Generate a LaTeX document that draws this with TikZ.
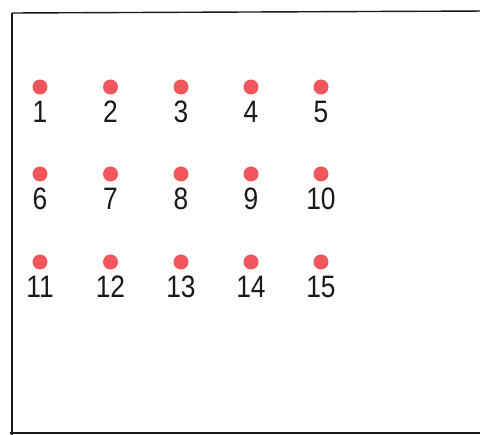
\documentclass[tikz,border=0pt]{standalone}
\usepackage{fontspec}
\newfontfamily\lblfont[FakeStretch=0.85]{Liberation Sans}
\definecolor{dotred}{HTML}{F0565C}
\begin{document}
\begin{tikzpicture}[x=1pt,y=-1pt,
  dotnode/.style={circle,fill=dotred,inner sep=0pt,minimum size=15pt},
  numlabel/.style={inner sep=0pt,font=\lblfont\fontsize{31}{31}\selectfont,text=black!90}]
\useasboundingbox (0,0) rectangle (480,435);
\draw[line width=1.4pt,black!90] (12,13) -- (490,11);
\draw[line width=1.4pt,black!90] (12,13) -- (12,440);
\draw[line width=1.4pt,black!90] (10,433) -- (490,433);
\foreach \r/\y in {0/87,1/174,2/262}{
  \foreach \c/\x in {1/40,2/110.5,3/181,4/251,5/321}{
    \pgfmathtruncatemacro\n{\r*5+\c}
    \node[dotnode] (d\n) at (\x,\y) {};
    \node[numlabel,anchor=center] (l\n) at (\x,\y+24.5) {\n};
  }
}
\end{tikzpicture}
\end{document}
